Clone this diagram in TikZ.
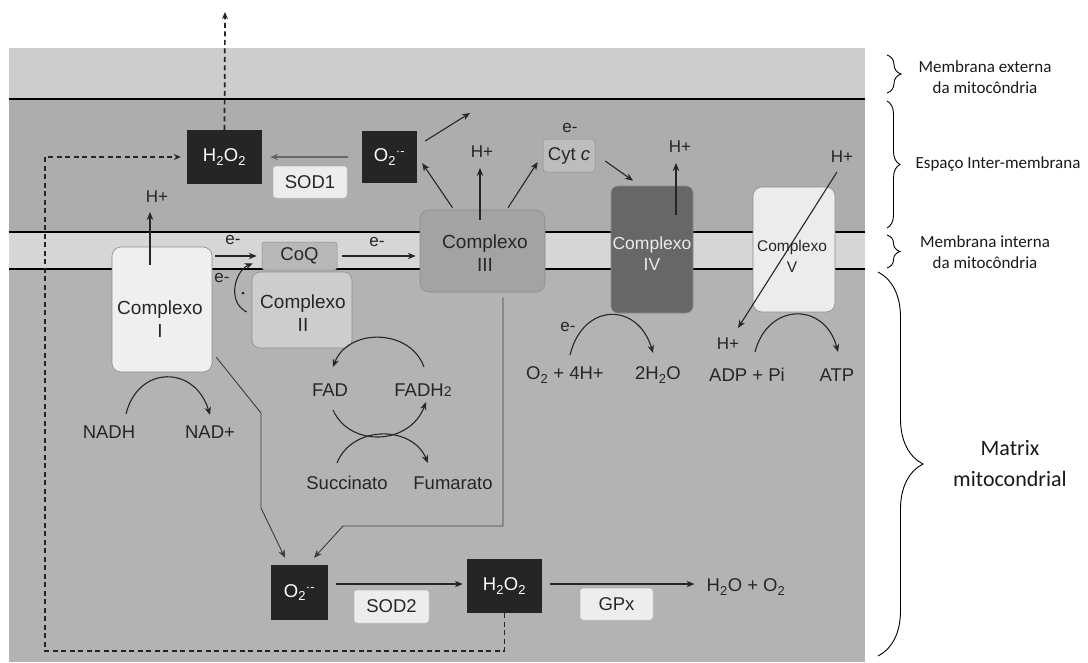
\documentclass[tikz,border=0pt]{standalone}
\usepackage{fontspec}
\setmainfont{Liberation Sans}
\newfontfamily\calfont{Carlito}
\usetikzlibrary{positioning,calc,arrows.meta,decorations.pathreplacing}

\definecolor{ink}{HTML}{262626}
\definecolor{outerband}{HTML}{CDCDCD}
\definecolor{imspace}{HTML}{ADADAD}
\definecolor{innerband}{HTML}{D6D6D6}
\definecolor{matrixcol}{HTML}{B3B3B3}
\definecolor{boxline}{HTML}{8C8C8C}
\definecolor{cIcol}{HTML}{EFEFEF}
\definecolor{cIIcol}{HTML}{CDCDCD}
\definecolor{cIIIcol}{HTML}{A3A3A3}
\definecolor{cIVcol}{HTML}{676767}
\definecolor{cVcol}{HTML}{ECECEC}
\definecolor{coqfill}{HTML}{B8B8B8}
\definecolor{cytfill}{HTML}{BDBDBD}
\definecolor{enzfill}{HTML}{EDEDED}
\definecolor{rosfill}{HTML}{252525}

\newcommand{\supox}{O\textsubscript{2}\textsuperscript{·-}}

\begin{document}
\begin{tikzpicture}[x=1pt,y=-1pt,
  every node/.style={font=\fontsize{18.5}{22}\selectfont,text=ink,inner sep=0pt},
  arr/.style={draw=ink,line width=1.1pt,-{Stealth[length=8pt,width=6.5pt]}},
  wire/.style={draw=ink!90,line width=0.9pt},
  dashln/.style={draw=ink,line width=1.7pt,dash pattern=on 5pt off 3.5pt},
  memb/.style={line width=2.6pt,black},
  cbox/.style={draw=boxline,line width=0.6pt,rounded corners=9pt},
  ros/.style={fill=rosfill,text=white},
  enz/.style={fill=enzfill,draw=boxline!60,line width=0.5pt,rounded corners=3pt},
  ctxt/.style={align=center,font=\fontsize{19}{22.5}\selectfont},
  smalltxt/.style={font=\fontsize{17}{20}\selectfont},
  brc/.style={draw=black,line width=0.9pt,decorate},
  side/.style={font=\calfont\fontsize{17}{21}\selectfont,align=center,text=black!90}]
\useasboundingbox (0,0) rectangle (1088,662);

% compartments
\fill[outerband] (9,48) rectangle (865,99);
\fill[imspace] (9,99) rectangle (865,232);
\fill[innerband] (9,232) rectangle (865,269);
\fill[matrixcol] (9,269) rectangle (865,662);
\foreach \yy in {99,232,269}
  \draw[memb] (9,\yy) -- (865,\yy);

% complexes
\node[cbox,fill=cIcol,minimum width=100pt,minimum height=125pt] (c1) at (162,309.5) {};
\node[cbox,fill=cIIcol,minimum width=100pt,minimum height=76pt,rounded corners=8pt] (c2) at (302,310) {};
\node[cbox,fill=cIIIcol,minimum width=125pt,minimum height=82pt] (c3) at (482.5,251) {};
\node[cbox,fill=cIVcol,minimum width=82pt,minimum height=127pt,rounded corners=7pt] (c4) at (652,249.5) {};
\node[cbox,fill=cVcol,minimum width=82pt,minimum height=125pt] (c5) at (794,249.5) {};
\node[ctxt] (t1) at (160,319) {Complexo\\I};
\node[ctxt] (t2) at (303,313) {Complexo\\II};
\node[ctxt] (t3) at (485,253) {Complexo\\III};
\node[ctxt,text=white!92!black,font=\fontsize{17.5}{21}\selectfont] (t4) at (652,254) {Complexo\\IV};
\node[ctxt,font=\fontsize{15.5}{21}\selectfont] (t5) at (792,256) {Complexo\\V};
\node[enz,fill=coqfill,draw=boxline,minimum width=75pt,minimum height=28pt] (coq) at (299.5,256) {CoQ};
\node[enz,fill=cytfill,draw=boxline,minimum width=52pt,minimum height=33pt] (cyt) at (569,155.5) {Cyt \textit{c}};

% ROS and enzymes
\node[ros,minimum width=75pt,minimum height=54pt] (hpa) at (224.5,157) {H\textsubscript{2}O\textsubscript{2}};
\node[ros,minimum width=55pt,minimum height=52pt] (supa) at (389.5,157) {\supox};
\node[enz,minimum width=74pt,minimum height=32pt] (sod1) at (310,182) {SOD1};
\node[ros,minimum width=57pt,minimum height=55pt] (supb) at (299.5,592.5) {\supox};
\node[enz,minimum width=75pt,minimum height=33pt] (sod2) at (391.5,606.5) {SOD2};
\node[ros,minimum width=75pt,minimum height=54pt] (hpb) at (504.5,586) {H\textsubscript{2}O\textsubscript{2}};
\node[enz,minimum width=73pt,minimum height=32pt] (gpx) at (616.5,604) {GPx};
\node (prod) at (746,587) {H\textsubscript{2}O + O\textsubscript{2}};

% small labels
\node[smalltxt] (hp1) at (157,197) {H+};
\node[smalltxt] (hp3) at (482,152) {H+};
\node[smalltxt] (hp4) at (680,147) {H+};
\node[smalltxt] (hp5a) at (842,157) {H+};
\node[smalltxt] (hp5b) at (728,344) {H+};
\node[smalltxt] (em1) at (233,240) {e-};
\node[smalltxt] (em2) at (377,242) {e-};
\node[smalltxt] (em3) at (222,278) {e-};
\node[smalltxt] (em4) at (570,128) {e-};
\node[smalltxt] (em5) at (568,327) {e-};
\node (nadh) at (109,432) {NADH};
\node (nadp) at (210,432) {NAD+};
\node (fad) at (330,390) {FAD};
\node (fadh) at (423,390) {FADH{\fontsize{14}{14}\selectfont 2}};
\node (succ) at (347,483) {Succinato};
\node (fuma) at (453,483) {Fumarato};
\node (oxy) at (565,375) {O\textsubscript{2} + 4H+};
\node (wat) at (658,375) {2H\textsubscript{2}O};
\node (adp) at (747,375) {ADP + Pi};
\node (atp) at (837,375) {ATP};
\coordinate (out) at (225,12);
\coordinate (ims) at (470,113);

% proton pumping
\draw[arr] ([shift={(-12,18)}]c1.north) -- ([shift={(-7,15)}]hp1.center);
\draw[arr] ([shift={(-2.5,10)}]c3.north) -- ([shift={(-2,16)}]hp3.center);
\draw[arr] ([shift={(24,29)}]c4.north) -- ([shift={(-4,16)}]hp4.center);
\draw[arr] ([shift={(-5,15)}]hp5a.center) -- ([shift={(10,-16)}]hp5b.center);

% electron flow
\draw[arr,shorten <=3pt,shorten >=5pt] (c1.east |- coq.west) -- (coq.west);
\draw[arr,shorten <=5pt,shorten >=4pt] (coq.east) -- (c3.west |- coq.east);
\draw[arr] ([shift={(-5,2)}]c2.west) .. controls +(-20,-10) and +(-18,8) .. ([shift={(-9,-7)}]coq.south west);
\fill[ink] (243,293) circle (1.5pt);
\draw[arr] ([shift={(25.5,-2)}]c3.north) -- ([shift={(-5,6.5)}]cyt.west);
\draw[arr] ([shift={(10,5.5)}]cyt.east) -- ([shift={(-19,-5)}]c4.north);

% superoxide leaks
\draw[arr] ([shift={(-30,-2)}]c3.north) -- ([shift={(5,-20)}]supa.south east);
\draw[arr] ([shift={(8,-16)}]supa.east) -- (ims);
\draw[arr,draw=ink!70,shorten <=14pt,shorten >=8pt] (supa.west) -- (hpa.east);
\draw[wire,-{Stealth[length=8pt,width=6.5pt]}] ([shift={(4,-15)}]c1.south east) -- (261,413) -- (261,508) -- ([shift={(-14.5,-7)}]supb.north);
\draw[wire,-{Stealth[length=8pt,width=6.5pt]}] ([shift={(20.5,5)}]c3.south) -- (503,526) -- (343,526) -- ([shift={(14.5,-7)}]supb.north);

% matrix reactions
\draw[arr] ([shift={(17,-18)}]nadh.center) .. controls +(12,-49) and +(-15,-50) .. ([shift={(0,-17)}]nadp.center);
\draw[arr] ([shift={(1,-23)}]fadh.center) .. controls +(-14,-39) and +(15,-39) .. ([shift={(3,-23)}]fad.center);
\draw[arr] ([shift={(3,20)}]fad.center) .. controls +(17,38) and +(-16,43) .. ([shift={(3,12)}]fadh.center);
\draw[arr] ([shift={(-10,-20)}]succ.center) .. controls +(15,-38) and +(-16,-38) .. ([shift={(-25,-20)}]fuma.center);
\draw[arr] ([shift={(5,-20)}]oxy.center) .. controls +(13,-53) and +(-15,-51) .. ([shift={(-5,-22)}]wat.center);
\draw[arr] ([shift={(8,-23)}]adp.center) .. controls +(13,-50) and +(-13,-50) .. ([shift={(1,-23)}]atp.center);
\draw[arr,shorten <=8pt,shorten >=4pt] ([shift={(0,-8.5)}]supb.east) -- ([shift={(0,-2)}]hpb.west);
\draw[arr,shorten <=8pt,shorten >=12pt] ([shift={(0,-2)}]hpb.east) -- ([shift={(0,-3)}]prod.west);

% hydrogen peroxide routes
\draw[dashln,-{Stealth[length=7pt,width=6pt]}] (hpa.north) -- (out);
\draw[dashln,-{Stealth[length=7pt,width=6pt]},shorten >=6pt] (hpb.south) |- (45,651) |- (hpa.west);

% compartment braces
\draw[brc,decoration={brace,amplitude=14pt}] (887,55) -- (887,93);
\node[side] (lbo) at (985,77) {Membrana externa\\da mitocôndria};
\draw[brc,decoration={brace,amplitude=13pt}] (887,101) -- (887,228);
\node[side] (lbs) at (998,164) {Espaço Inter-membrana};
\draw[brc,decoration={brace,amplitude=13pt}] (887,235) -- (887,268);
\node[side] (lbi) at (985,252) {Membrana interna\\da mitocôndria};
\draw[brc,decoration={brace,amplitude=45pt}] (878,272) -- (878,656);
\node[side,font=\calfont\fontsize{22}{31}\selectfont] (lbx) at (1010,464) {Matrix\\mitocondrial};
\end{tikzpicture}
\end{document}
